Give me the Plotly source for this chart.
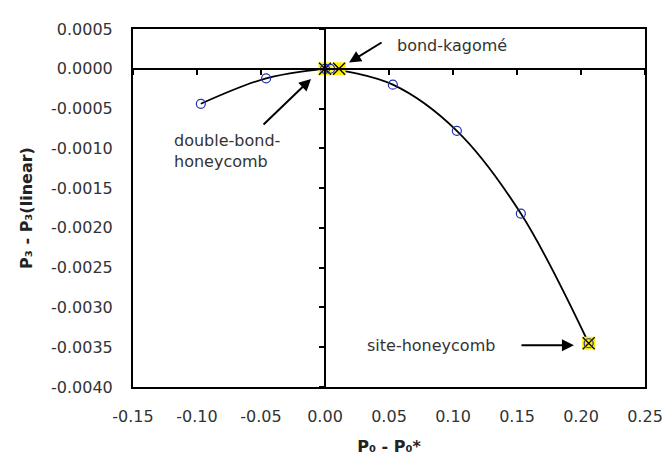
import plotly.graph_objects as go

# ---- data ----
circ_x = [-0.097, -0.046, 0.0, 0.004, 0.053, 0.103, 0.153, 0.206]
circ_y = [-0.00044, -0.00012, 0.0, 0.0, -0.00020, -0.00078, -0.00182, -0.00345]

special_x = [0.0, 0.011, 0.206]
special_y = [0.0, 0.0, -0.00345]

x_tickvals = [-0.15, -0.10, -0.05, 0.00, 0.05, 0.10, 0.15, 0.20, 0.25]
x_ticktext = ["-0.15", "-0.10", "-0.05", "0.00", "0.05", "0.10", "0.15", "0.20", "0.25"]
y_tickvals = [0.0005, 0.0, -0.0005, -0.001, -0.0015, -0.002, -0.0025, -0.003, -0.0035, -0.004]
y_ticktext = ["0.0005", "0.0000", "-0.0005", "-0.0010", "-0.0015", "-0.0020",
              "-0.0025", "-0.0030", "-0.0035", "-0.0040"]

labels = ["bond-kagomé", "double-bond-<br>honeycomb", "site-honeycomb"]
label_x = [0.0547, -0.1195, 0.134]
label_y = [0.000295, -0.00103, -0.003476]
arrow_x = [0.0188, -0.0109, 0.1945]
arrow_y = [0.000078, -0.000127, -0.003476]
arrow_ax = [34, -49, -54]
arrow_ay = [-21, 47, 0]

XR = [-0.15, 0.25]
YR = [-0.004, 0.0005]

FONT = "DejaVu Sans, Verdana, sans-serif"

fig = go.Figure()

# curve through the points
fig.add_trace(go.Scatter(x=circ_x, y=circ_y, mode="lines",
                         line=dict(color="black", width=1.8, shape="spline", smoothing=1.0),
                         hoverinfo="skip", showlegend=False))
# yellow highlight squares
fig.add_trace(go.Scatter(x=special_x, y=special_y, mode="markers",
                         marker=dict(symbol="square", size=13, color="#FFF000",
                                     line=dict(width=0)),
                         showlegend=False))
# black X markers
fig.add_trace(go.Scatter(x=special_x, y=special_y, mode="markers",
                         marker=dict(symbol="x-thin-open", size=12, color="black",
                                     line=dict(color="black", width=1.2)),
                         showlegend=False))
# blue open circles (drawn on the zero-crossing axes, same ranges)
fig.add_trace(go.Scatter(x=circ_x, y=circ_y, mode="markers", xaxis="x2", yaxis="y2",
                         marker=dict(symbol="circle-open", size=9, color="#2233A8",
                                     line=dict(color="#2233A8", width=1.2)),
                         showlegend=False))

for t, lx, ly in zip(labels, label_x, label_y):
    fig.add_annotation(x=lx, y=ly, text=t, showarrow=False, align="left",
                       xanchor="left" if t != "site-honeycomb" else "right",
                       yanchor="middle", font=dict(size=16, color="#333333", family=FONT))
for hx, hy, ax, ay in zip(arrow_x, arrow_y, arrow_ax, arrow_ay):
    fig.add_annotation(x=hx, y=hy, ax=ax, ay=ay, text="", showarrow=True,
                       arrowhead=2, arrowsize=1.2, arrowwidth=2, arrowcolor="black",
                       standoff=0)

y0_frac = (0 - YR[0]) / (YR[1] - YR[0])
x0_frac = (0 - XR[0]) / (XR[1] - XR[0])

fig.update_layout(
    width=670, height=457,
    margin=dict(l=125, r=33, t=18, b=66),
    paper_bgcolor="white", plot_bgcolor="white",
    font=dict(family=FONT, size=16, color="#333333"),
    xaxis=dict(range=XR, tickvals=x_tickvals, ticktext=x_ticktext,
               showgrid=False, zeroline=False, showline=True, mirror=True,
               linecolor="black", linewidth=2, ticks="", ticklabelstandoff=14,
               title=dict(text="<b>P₀ - P₀*</b>", standoff=16,
                          font=dict(size=16, color="#222222"))),
    yaxis=dict(range=YR, tickvals=y_tickvals, ticktext=y_ticktext,
               showgrid=False, zeroline=False, showline=True, mirror=True,
               linecolor="black", linewidth=2, ticks="", ticklabelstandoff=15,
               title=dict(text="<b>P₃ - P₃(linear)</b>", standoff=14,
                          font=dict(size=16, color="#222222"))),
    xaxis2=dict(range=XR, overlaying="x", anchor="free", position=y0_frac,
                tickvals=x_tickvals, showticklabels=False, ticks="outside",
                ticklen=5, tickwidth=1.5, tickcolor="black",
                showline=True, linecolor="black", linewidth=2,
                showgrid=False, zeroline=False),
    yaxis2=dict(range=YR, overlaying="y", anchor="free", position=x0_frac,
                tickvals=y_tickvals, showticklabels=False, ticks="outside",
                ticklen=5, tickwidth=1.5, tickcolor="black",
                showline=True, linecolor="black", linewidth=2,
                showgrid=False, zeroline=False),
)

fig.write_html("out.html")
